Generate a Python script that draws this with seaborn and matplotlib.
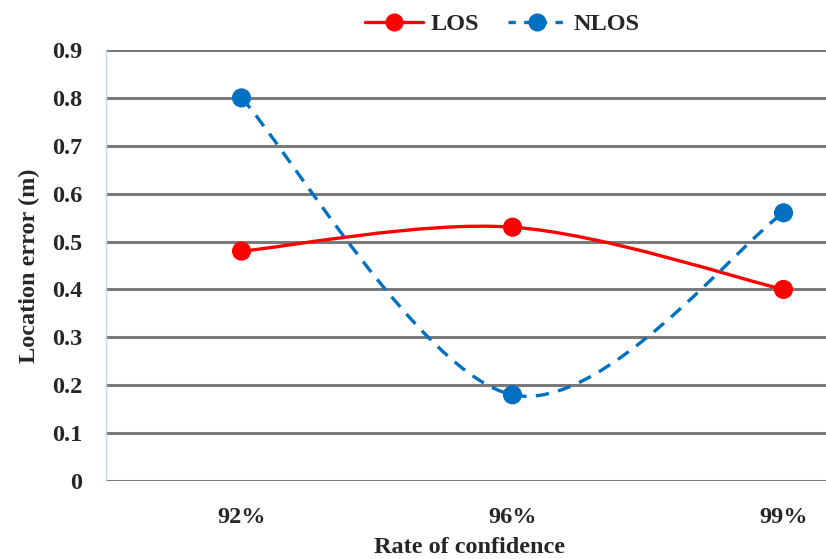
import matplotlib
matplotlib.use("Agg")
import matplotlib.pyplot as plt
import seaborn as sns
import pandas as pd
from matplotlib.path import Path
from matplotlib.patches import PathPatch
from matplotlib.lines import Line2D

confidence = ["92%", "96%", "99%"]
los = [0.48, 0.53, 0.40]
nlos = [0.80, 0.18, 0.56]

RED = "#ff0000"
BLUE = "#0070c0"


def smooth_path(xs, ys):
    """Excel-style smoothed line: cubic Bezier through every point"""
    pts = list(zip(xs, ys))
    ext = [pts[0]] + pts + [pts[-1]]
    verts = [pts[0]]
    codes = [Path.MOVETO]
    for i in range(1, len(ext) - 2):
        p0, p1, p2, p3 = ext[i - 1], ext[i], ext[i + 1], ext[i + 2]
        c1 = (p1[0] + (p2[0] - p0[0]) / 6, p1[1] + (p2[1] - p0[1]) / 6)
        c2 = (p2[0] - (p3[0] - p1[0]) / 6, p2[1] - (p3[1] - p1[1]) / 6)
        verts += [c1, c2, p2]
        codes += [Path.CURVE4] * 3
    return Path(verts, codes)


df = pd.DataFrame({
    "conf": confidence * 2,
    "err": los + nlos,
    "series": ["LOS"] * 3 + ["NLOS"] * 3,
})

sns.set_style("white")
plt.rcParams["font.family"] = ["Liberation Serif", "DejaVu Serif"]
plt.rcParams["font.weight"] = "bold"
FS = 17.5

fig = plt.figure(figsize=(8.26, 5.59), dpi=100)
ax = fig.add_axes([106 / 826, 1 - 481 / 559, 813 / 826, 431 / 559])

xpos = list(range(len(confidence)))
ax.add_patch(PathPatch(smooth_path(xpos, los), fill=False, edgecolor=RED,
                       lw=2.4, zorder=3, capstyle="round"))
ax.add_patch(PathPatch(smooth_path(xpos, nlos), fill=False, edgecolor=BLUE,
                       lw=2.4, zorder=3, linestyle=(0, (4, 2.8))))

sns.scatterplot(data=df, x="conf", y="err", hue="series",
                palette={"LOS": RED, "NLOS": BLUE}, s=190, edgecolor="none",
                zorder=4, legend=False, ax=ax)

ax.set_xlim(-0.5, 2.5)
ax.set_ylim(0, 0.9)
ax.set_yticks([i / 10 for i in range(10)])
ax.set_yticklabels(["0"] + [f"{i / 10:.1f}" for i in range(1, 10)])
ax.grid(axis="y", color="#7a7a7a", lw=2.2)
ax.set_axisbelow(True)
for s in ["top", "right", "bottom"]:
    ax.spines[s].set_visible(False)
ax.spines["left"].set_color("#c5d5ee")
ax.spines["left"].set_linewidth(1)
ax.tick_params(axis="y", length=5, color="#c5d5ee", labelsize=FS, pad=12)
ax.tick_params(axis="x", length=0, labelsize=FS, pad=19)

ax.set_xlabel("Rate of confidence", fontsize=FS, fontweight="bold")
ax.set_ylabel("Location error (m)", fontsize=FS, fontweight="bold")
ax.xaxis.set_label_coords((470 - 106) / 813, (481 - 537) / 431)
ax.yaxis.set_label_coords((40 - 106) / 813, 0.5)

handles = [
    Line2D([], [], color=RED, lw=2.4, marker="o", markersize=12),
    Line2D([], [], color=BLUE, lw=2.4, ls=(0, (2.2, 2.5)), marker="o", markersize=12),
]
fig.legend(handles, ["LOS", "NLOS"], loc="center", bbox_to_anchor=(0.608, 0.957),
           ncol=2, frameon=False, fontsize=FS, handlelength=2.4,
           handletextpad=0.3, columnspacing=1.2)

fig.savefig("out.png", dpi=100)
